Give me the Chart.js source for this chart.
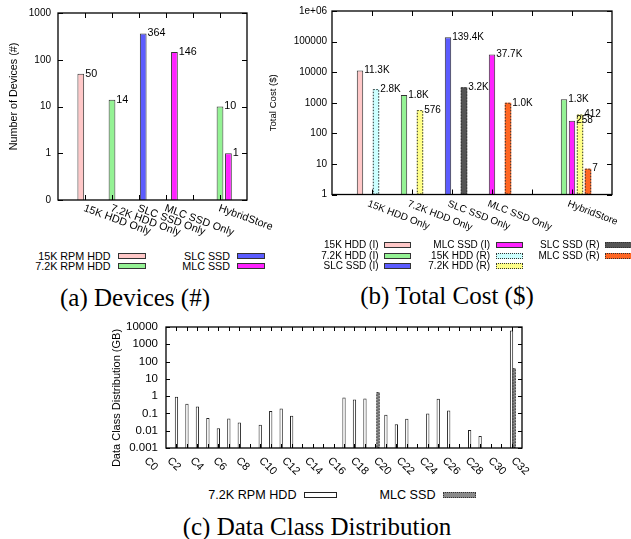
<!DOCTYPE html>
<html>
<head>
<meta charset="utf-8">
<script src="https://cdn.jsdelivr.net/npm/chart.js@4.4.1/dist/chart.umd.min.js"></script>
<style>
  body { margin: 0; width: 631px; height: 539px; position: relative; overflow: hidden; background: #fff;
         font-family: "Liberation Sans", Arial, sans-serif; }
  .pane { position: absolute; }
  .lt { position: absolute; transform: translate(-100%, -50%); white-space: nowrap; line-height: 1; color: #000; }
  .lb { position: absolute; box-sizing: border-box; }
  .cap { position: absolute; transform: translate(-50%, -50%); white-space: nowrap; line-height: 1;
         font-family: "Liberation Serif", "Times New Roman", serif; font-size: 25px; }
</style>
</head>
<body>
<canvas id="devices" class="pane" width="300" height="240" style="left:0;top:0"></canvas>
<canvas id="cost" class="pane" width="376" height="240" style="left:255px;top:0"></canvas>
<canvas id="classes" class="pane" width="541" height="165" style="left:90px;top:312px"></canvas>
<div class="cap" style="left:135px;top:297px">(a) Devices (#)</div>
<div class="cap" style="left:447px;top:295px">(b) Total Cost ($)</div>
<div class="cap" style="left:317px;top:526px">(c) Data Class Distribution</div>
<script>
Chart.defaults.font.family = '"Liberation Sans", Arial, sans-serif';
Chart.defaults.color = '#000';

// ---- data ----
const groups = ['15K HDD Only', '7.2K HDD Only', 'SLC SSD Only', 'MLC SSD Only', 'HybridStore'];

// (a) number of devices
const devHdd15k = [50, null, null, null, null];
const devHdd7k  = [null, 14, null, null, 10];
const devSlc    = [null, null, 364, null, null];
const devMlc    = [null, null, null, 146, 1];
const devTicks  = [0.1, 1, 10, 100, 1000];
const devTickLabels = ['0', '1', '10', '100', '1000'];

// (b) total cost, initial (I) and replacement (R)
const costHdd15kI = [11300, null, null, null, null];
const costHdd7kI  = [null, 1800, null, null, 1300];
const costSlcI    = [null, null, 139400, null, null];
const costMlcI    = [null, null, null, 37700, 258];
const costHdd15kR = [2800, null, null, null, null];
const costHdd7kR  = [null, 576, null, null, 412];
const costSlcR    = [null, null, 3200, null, null];
const costMlcR    = [null, null, null, 1000, 7];
const costTicks   = [1, 10, 100, 1000, 10000, 100000, 1000000];
const costTickLabels = ['1', '10', '100', '1000', '10000', '100000', '1e+06'];

// (c) data class distribution (GB)
const classes = ['C0', 'C1', 'C2', 'C3', 'C4', 'C5', 'C6', 'C7', 'C8', 'C9', 'C10', 'C11', 'C12', 'C13', 'C14',
  'C15', 'C16', 'C17', 'C18', 'C19', 'C20', 'C21', 'C22', 'C23', 'C24', 'C25', 'C26', 'C27', 'C28', 'C29',
  'C30', 'C31', 'C32'];
const hddGB = [0.93, 0.36, 0.25, 0.054, 0.014, 0.051, 0.03, null, 0.022, 0.14, 0.19, 0.074, null, null, null,
  null, 0.84, 0.65, 0.74, null, 0.085, 0.024, 0.05, null, 0.1, 0.7, 0.15, null, 0.011, 0.005,
  null, null, 6200];
const mlcGB = [null, null, null, null, null, null, null, null, null, null, null, null, null, null, null,
  null, null, null, null, 1.7, null, null, null, null, null, null, null, null, null, null,
  null, null, 41];
const classTicks = [0.001, 0.01, 0.1, 1, 10, 100, 1000, 10000];
const classTickLabels = ['0.001', '0.01', '0.1', '1', '10', '100', '1000', '10000'];

// ---- layout helpers ----
// gnuplot x axis: one tic per group, an empty tic before HybridStore
const slots = ['', groups[0], groups[1], groups[2], groups[3], '', groups[4], ''];
const spread = vals => slots.map(s => (s ? vals[groups.indexOf(s)] : null));
const classSlots = ['', ...classes, ''];
const pad = vals => [null, ...vals, null];

// gnuplot leaves an empty slot in front of each cluster
const spacer = () => ({ label: '', data: [] });
const bar = (label, data, color, dotted, border) => ({
  label, data, backgroundColor: color, borderColor: border || '#333',
  borderWidth: dotted ? 0 : 1, dotted
});

const kfmt = v => (v >= 1000 ? (v / 1000).toFixed(1) + 'K' : String(v));

function logAxis(ticks, labels, width, size, padding) {
  return {
    type: 'logarithmic',
    min: ticks[0],
    max: ticks[ticks.length - 1],
    afterBuildTicks: s => { s.ticks = ticks.map(v => ({ value: v })); },
    afterFit: s => { s.width = width; },
    ticks: { autoSkip: false, padding, font: { size }, callback: (v, i) => labels[i] },
    grid: { display: false, drawTicks: false },
    border: { display: false }
  };
}

function slotAxis(height) {
  return {
    type: 'category',
    offset: false,
    afterFit: s => { s.height = height; },
    ticks: { display: false, autoSkip: false },
    grid: { display: false, drawTicks: false },
    border: { display: false }
  };
}

const gnuplot = {
  id: 'gnuplot',
  afterDatasetsDraw(chart, args, o) {
    const { ctx, chartArea: a } = chart;
    const x = chart.scales.x, y = chart.scales.y;
    ctx.save();
    chart.data.datasets.forEach((ds, i) => {
      if (!ds.label) return;
      chart.getDatasetMeta(i).data.forEach((el, j) => {
        const v = ds.data[j];
        if (v == null) return;
        const w = el.width;
        if (ds.dotted) {
          ctx.setLineDash([1.5, 1.5]);
          ctx.strokeStyle = '#333';
          ctx.lineWidth = 1;
          ctx.strokeRect(el.x - w / 2 + 0.5, el.y + 0.5, w - 1, el.base - el.y - 1);
          ctx.setLineDash([]);
        }
        if (o.fmt) {
          ctx.font = o.valueFont;
          ctx.fillStyle = '#000';
          ctx.textAlign = 'left';
          ctx.textBaseline = 'middle';
          ctx.fillText(o.fmt(v), el.x + w / 2 + 1, el.y);
        }
      });
    });

    // frame with inward tics on all four sides
    ctx.strokeStyle = '#000';
    ctx.lineWidth = 1;
    ctx.beginPath();
    y.ticks.forEach(t => {
      const py = Math.round(y.getPixelForValue(t.value)) + 0.5;
      ctx.moveTo(a.left, py); ctx.lineTo(a.left + o.tick, py);
      ctx.moveTo(a.right, py); ctx.lineTo(a.right - o.tick, py);
    });
    for (let i = 1; i < chart.data.labels.length - 1; i++) {
      const px = Math.round(x.getPixelForValue(i)) + 0.5;
      ctx.moveTo(px, a.bottom); ctx.lineTo(px, a.bottom - o.tick);
      ctx.moveTo(px, a.top); ctx.lineTo(px, a.top + o.tick);
    }
    ctx.stroke();
    ctx.lineWidth = 1.3;
    ctx.strokeRect(a.left, a.top, a.right - a.left, a.bottom - a.top);

    // slanted tic labels (value = position on the category axis, may be fractional)
    ctx.font = o.labelFont;
    ctx.fillStyle = '#000';
    ctx.textAlign = 'left';
    ctx.textBaseline = 'middle';
    o.tickLabels.forEach(t => {
      ctx.save();
      ctx.translate(x.getPixelForValue(t.value) + o.labelDx, a.bottom + o.labelDy);
      ctx.rotate(o.angle * Math.PI / 180);
      ctx.fillText(t.text, 0, 0);
      ctx.restore();
    });

    // y title, centred where gnuplot put it rather than on the axis
    const t = o.title;
    ctx.font = t.font;
    ctx.textAlign = 'center';
    ctx.textBaseline = 'middle';
    ctx.translate(t.x, (a.top + a.bottom) / 2 + t.dy);
    ctx.rotate(-Math.PI / 2);
    ctx.fillText(t.text, 0, 0);
    ctx.restore();
  }
};

const base = {
  responsive: false,
  animation: false,
  devicePixelRatio: 1,
  events: []
};

// ---- (a) devices ----
const devChart = new Chart(document.getElementById('devices'), {
  type: 'bar',
  data: {
    labels: slots,
    datasets: [
      spacer(),
      bar('15K RPM HDD', spread(devHdd15k), '#ffc8c8'),
      bar('7.2K RPM HDD', spread(devHdd7k), '#94f294'),
      bar('SLC SSD', spread(devSlc), '#5c5cff'),
      bar('MLC SSD', spread(devMlc), '#ff22ff')
    ]
  },
  options: {
    ...base,
    layout: { padding: { left: 0, top: 13, right: 53, bottom: 0 } },
    datasets: { bar: { categoryPercentage: 0.78, barPercentage: 1.6 } },
    plugins: {
      legend: { display: false }, tooltip: { enabled: false },
      gnuplot: {
        fmt: String, valueFont: '10.75px "Liberation Sans", Arial', tick: 5,
        labelFont: '10.75px "Liberation Sans", Arial', angle: 20, labelDx: -1, labelDy: 8,
        tickLabels: slots.map((s, i) => ({ text: s, value: i })).filter(t => t.text),
        title: { text: 'Number of Devices (#)', font: '10.75px "Liberation Sans", Arial', x: 14, dy: -10 }
      }
    },
    scales: {
      x: slotAxis(40),
      y: logAxis(devTicks, devTickLabels, 58, 10, 7)
    }
  },
  plugins: [gnuplot]
});

// ---- (b) total cost ----
const costChart = new Chart(document.getElementById('cost'), {
  type: 'bar',
  data: {
    labels: slots,
    datasets: [
      spacer(),
      bar('15K HDD (I)', spread(costHdd15kI), '#ffc8c8'),
      bar('7.2K HDD (I)', spread(costHdd7kI), '#94f294'),
      bar('SLC SSD (I)', spread(costSlcI), '#5c5cff'),
      bar('MLC SSD (I)', spread(costMlcI), '#ff22ff'),
      bar('15K HDD (R)', spread(costHdd15kR), '#ccffff', true),
      bar('7.2K HDD (R)', spread(costHdd7kR), '#ffff88', true),
      bar('SLC SSD (R)', spread(costSlcR), '#555555', true),
      bar('MLC SSD (R)', spread(costMlcR), '#ff6622', true)
    ]
  },
  options: {
    ...base,
    layout: { padding: { left: 0, top: 4.5, right: 19, bottom: 0 } },
    datasets: { bar: { categoryPercentage: 0.9, barPercentage: 1.6 } },
    plugins: {
      legend: { display: false }, tooltip: { enabled: false },
      gnuplot: {
        fmt: kfmt, valueFont: '10px "Liberation Sans", Arial', tick: 5,
        labelFont: '10px "Liberation Sans", Arial', angle: 21, labelDx: -4, labelDy: 9,
        tickLabels: slots.map((s, i) => ({ text: s, value: i })).filter(t => t.text),
        title: { text: 'Total Cost ($)', font: '9.6px "Liberation Sans", Arial', x: 18.5, dy: 0 }
      }
    },
    scales: {
      x: slotAxis(45.5),
      y: logAxis(costTicks, costTickLabels, 77, 10, 5)
    }
  },
  plugins: [gnuplot]
});

// ---- (c) data class distribution ----
// the class names in the original run on a slightly wider pitch than the bars
const classLabelPos = k => -1.91 + 1.095 * k;

const classChart = new Chart(document.getElementById('classes'), {
  type: 'bar',
  data: {
    labels: classSlots,
    datasets: [
      spacer(),
      bar('7.2K RPM HDD', pad(hddGB), '#ffffff', false, '#222'),
      bar('MLC SSD', pad(mlcGB), '#8a8a8a', true)
    ]
  },
  options: {
    ...base,
    layout: { padding: { left: 0, top: 15, right: 109, bottom: 0 } },
    datasets: { bar: { categoryPercentage: 0.745, barPercentage: 1.27 } },
    plugins: {
      legend: { display: false }, tooltip: { enabled: false },
      gnuplot: {
        fmt: null, tick: 4,
        labelFont: '11px "Liberation Sans", Arial', angle: 45, labelDx: 0, labelDy: 11,
        tickLabels: classes.map((c, k) => ({ text: c, value: classLabelPos(k) })).filter((t, k) => k % 2 === 0),
        title: { text: 'Data Class Distribution (GB)', font: '11px "Liberation Sans", Arial', x: 27, dy: 10.5 }
      }
    },
    scales: {
      x: slotAxis(29),
      y: logAxis(classTicks, classTickLabels, 76, 11.5, 8)
    }
  },
  plugins: [gnuplot]
});

// ---- gnuplot style keys: text right-aligned, sample box to its right ----
function key(chart, spec) {
  chart.data.datasets.filter(d => d.label).forEach((d, i) => {
    const col = Math.floor(i / spec.rows), row = i % spec.rows;
    const t = document.createElement('div');
    t.className = 'lt';
    t.textContent = d.label;
    t.style.fontSize = spec.font + 'px';
    t.style.left = spec.textRight[col] + 'px';
    t.style.top = spec.rowY[row] + 'px';
    document.body.appendChild(t);
    const b = document.createElement('div');
    b.className = 'lb';
    b.style.left = spec.boxLeft[col] + 'px';
    b.style.top = (spec.rowY[row] - spec.boxH / 2) + 'px';
    b.style.width = spec.boxW + 'px';
    b.style.height = spec.boxH + 'px';
    b.style.background = d.backgroundColor;
    b.style.border = '1px ' + (d.dotted ? 'dotted ' : 'solid ') + d.borderColor;
    document.body.appendChild(b);
  });
}

key(devChart, { rows: 2, font: 10.75, textRight: [110.5, 230], boxLeft: [117.5, 236.5], rowY: [256, 266], boxW: 28, boxH: 6 });
key(costChart, { rows: 3, font: 10, textRight: [378.5, 490, 599.5], boxLeft: [384, 495.5, 605], rowY: [245, 255.7, 266.4], boxW: 27, boxH: 6 });
key(classChart, { rows: 1, font: 12.6, textRight: [296.5, 435.5], boxLeft: [304, 443], rowY: [495], boxW: 33, boxH: 6 });
</script>
</body>
</html>
